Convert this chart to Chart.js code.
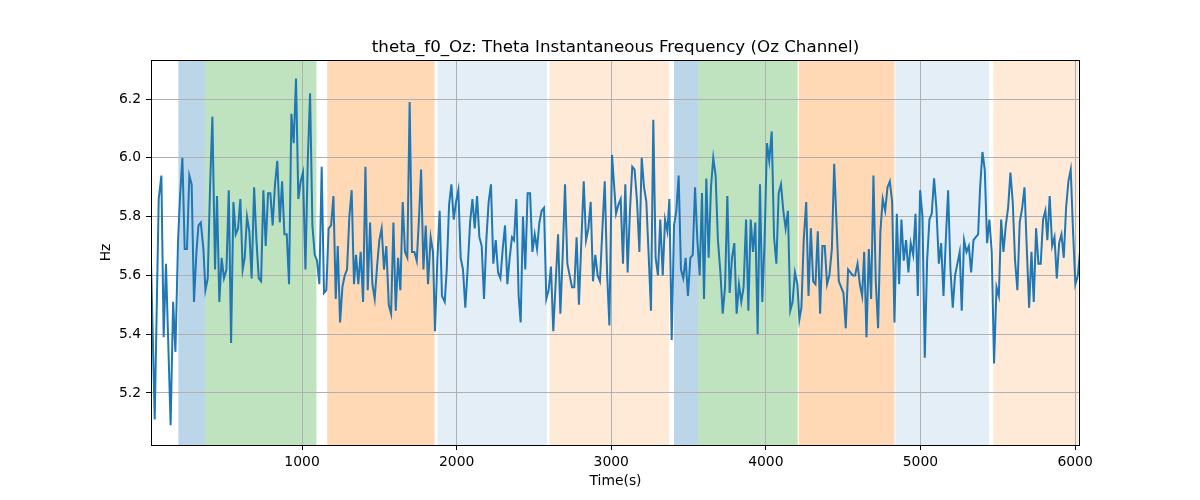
<!DOCTYPE html>
<html>
<head>
<meta charset="utf-8">
<script src="https://cdn.jsdelivr.net/npm/chart.js@4.4.1/dist/chart.umd.min.js"></script>
<style>
  html, body { margin: 0; padding: 0; background: #fff; }
</style>
</head>
<body>
<canvas id="chart" width="1200" height="500"></canvas>
<script>
// time (s) and theta frequency (Hz)
const timeSec = [
  23,47,73,90,105,120,133,150,166,181,198,211,226,241,256,271,286,301,317,330,
  345,362,375,390,405,420,437,450,465,480,495,511,526,541,556,571,586,601,616,
  629,644,659,674,690,705,720,735,750,765,780,795,810,825,840,856,871,886,901,916,
  931,946,961,976,991,1006,1022,1037,1052,1067,1082,1097,1112,1127,1142,1157,1172,1188,1203,1218,
  1231,1246,1261,1276,1291,1306,1321,1336,1349,1364,1379,1395,1410,1425,1440,1455,1470,1485,1500,1515,
  1530,1545,1561,1576,1591,1606,1621,1636,1651,1666,1681,1696,1711,1727,1742,1757,1770,1785,1800,1815,
  1832,1847,1860,1875,1890,1905,1923,1936,1951,1966,1981,1996,2011,2026,2041,2056,2071,2087,2102,2117,
  2132,2147,2162,2177,2192,2207,2222,2237,2253,2268,2283,2298,2313,2328,2343,2358,2371,2386,2401,
  2414,2429,2444,2459,2475,2490,2505,2520,2535,2550,2565,2580,2595,2610,2625,2641,2656,2671,2686,2701,
  2716,2731,2746,2761,2776,2791,2807,2822,2837,2852,2867,2882,2897,2912,2927,2942,2958,2973,2988,3005,
  3031,3046,3061,3076,3091,3106,3121,3136,3151,3167,3182,3197,3212,3227,3242,3257,3272,3287,3302,3317,
  3333,3348,3363,3376,3391,3406,3421,3436,3451,3466,3481,3496,3512,3527,3542,3557,3572,3587,3600,
  3615,3630,3645,3660,3675,3690,3706,3721,3736,3751,3766,3781,3796,3811,3826,3841,3856,3872,3887,3902,
  3917,3932,3947,3962,3977,3992,4007,4022,4038,4053,4068,4083,4098,4113,4128,4143,4158,4173,4188,
  4204,4217,4230,4245,4261,4276,4291,4306,4321,4336,4351,4366,4381,4396,4411,4427,4442,4457,4472,4487,
  4502,4517,4532,4547,4562,4577,4593,4608,4623,4636,4651,4666,4681,4696,4711,4726,4741,4756,4772,4787,
  4802,4817,4832,4847,4862,4877,4892,4907,4922,4937,4953,4968,4983,4998,5013,5028,5043,5058,5073,5088,
  5103,5119,5134,5149,5164,5179,5194,5209,5224,5239,5254,5267,5282,5298,5313,5328,5343,5358,5373,5386,
  5401,5416,5431,5446,5461,5476,5492,5507,5522,5537,5552,5567,5582,5597,5612,5627,5642,5658,5673,5688,
  5703,5718,5733,5748,5763,5778,5793,5808,5821,5836,5852,5867,5882,5897,5912,5927,5942,5957,5972,5987,
  6002,6018,6032
];
const thetaHz = [
  5.65,5.11,5.86,5.94,5.39,5.64,5.40,5.09,5.51,5.34,5.72,5.87,6.00,5.69,5.69,5.94,5.91,5.51,5.68,5.77,
  5.78,5.69,5.55,5.59,5.90,6.14,5.62,5.87,5.51,5.66,5.59,5.62,5.89,5.37,5.85,5.74,5.76,5.86,5.62,
  5.66,5.80,5.75,5.59,5.90,5.72,5.59,5.58,5.89,5.70,5.88,5.88,5.77,5.91,5.99,5.78,5.92,5.74,5.74,5.57,
  6.15,6.05,6.27,5.86,5.92,5.95,5.62,5.99,6.22,5.77,5.67,5.65,5.57,5.97,5.54,5.55,5.76,5.77,5.87,5.52,
  5.70,5.44,5.56,5.60,5.62,5.80,5.89,5.57,5.67,5.57,5.68,5.51,5.97,5.55,5.78,5.57,5.52,5.63,5.72,5.76,
  5.62,5.70,5.50,5.47,5.78,5.48,5.66,5.55,5.85,5.68,5.66,6.19,5.68,5.68,5.65,5.80,5.96,5.62,5.77,5.57,
  5.73,5.68,5.41,5.65,5.82,5.53,5.51,5.62,5.84,5.91,5.79,5.85,5.89,5.66,5.62,5.49,5.62,5.78,5.86,5.76,
  5.87,5.73,5.70,5.52,5.72,5.85,5.91,5.64,5.72,5.61,5.59,5.69,5.77,5.57,5.66,5.73,5.72,5.86,5.53,
  5.44,5.80,5.62,5.88,5.88,5.68,5.74,5.69,5.78,5.82,5.83,5.52,5.55,5.63,5.41,5.58,5.74,5.47,5.67,5.91,
  5.64,5.60,5.56,5.56,5.73,5.50,5.72,5.92,5.72,5.76,5.85,5.58,5.67,5.60,5.58,5.75,5.92,5.61,5.43,6.01,
  5.81,5.84,5.86,5.64,5.91,5.61,5.82,5.97,5.96,5.85,5.68,6.00,5.90,5.85,5.67,5.48,6.13,5.66,5.60,5.79,
  5.60,5.79,5.75,5.86,5.38,5.77,5.82,5.94,5.62,5.59,5.66,5.53,5.66,5.67,5.90,5.72,5.60,5.88,5.52,
  5.93,5.66,5.90,6.00,5.94,5.72,5.61,5.47,5.56,5.87,5.54,5.66,5.71,5.47,5.57,5.51,5.56,5.79,5.48,5.79,
  5.68,5.78,5.40,5.91,5.51,5.72,6.05,5.99,6.09,5.73,5.64,5.88,5.91,5.82,5.76,5.82,5.48,5.51,5.61,
  5.57,5.45,5.49,5.72,5.85,5.53,5.76,5.58,5.57,5.75,5.47,5.70,5.70,5.57,5.60,5.69,5.98,5.78,5.58,5.56,
  5.54,5.42,5.62,5.61,5.60,5.60,5.64,5.57,5.53,5.68,5.39,5.69,5.52,5.94,5.58,5.42,5.75,5.86,5.82,5.90,
  5.92,5.85,5.44,5.81,5.57,5.79,5.65,5.72,5.61,5.71,5.67,5.81,5.53,5.89,5.80,5.32,5.65,5.79,5.81,5.93,
  5.83,5.64,5.71,5.53,5.72,5.89,5.62,5.49,5.60,5.64,5.68,5.48,5.72,5.68,5.70,5.61,5.72,5.73,5.74,5.90,
  6.02,5.96,5.71,5.79,5.68,5.30,5.56,5.53,5.79,5.68,5.77,5.83,5.95,5.85,5.65,5.55,5.78,5.83,5.90,5.69,
  5.49,5.68,5.51,5.76,5.64,5.64,5.79,5.82,5.72,5.87,5.70,5.73,5.59,5.71,5.74,5.66,5.83,5.92,5.96,5.75,
  5.57,5.60,5.68
];

// shaded phases (start, end in seconds) and their colours
const phaseStart = [200, 375, 1163, 1876, 2600, 3406, 3564, 4213, 4838, 5472];
const phaseEnd   = [375, 1093, 1857, 2585, 3374, 3564, 4206, 4832, 5443, 6020];
const phaseColor = [
  'rgba(31,119,180,0.3)', 'rgba(44,160,44,0.3)', 'rgba(255,127,14,0.3)',
  'rgba(31,119,180,0.12)', 'rgba(255,127,14,0.16)',
  'rgba(31,119,180,0.3)', 'rgba(44,160,44,0.3)', 'rgba(255,127,14,0.3)',
  'rgba(31,119,180,0.12)', 'rgba(255,127,14,0.16)'
];

const xTicks = [1000, 2000, 3000, 4000, 5000, 6000];
const yTicks = [5.2, 5.4, 5.6, 5.8, 6.0, 6.2];

const titleText = 'theta_f0_Oz: Theta Instantaneous Frequency (Oz Channel)';
const xLabel = 'Time(s)';
const yLabel = 'Hz';

const FONT = 'DejaVu Sans';

const points = timeSec.map((t, i) => ({x: t, y: thetaHz[i]}));

// spans go under the grid, like axvspan
const spansPlugin = {
  id: 'spans',
  beforeDraw(chart) {
    const {ctx, chartArea, scales} = chart;
    ctx.save();
    ctx.beginPath();
    ctx.rect(chartArea.left, chartArea.top, chartArea.right - chartArea.left, chartArea.bottom - chartArea.top);
    ctx.clip();
    for (let i = 0; i < phaseStart.length; i++) {
      const x0 = scales.x.getPixelForValue(phaseStart[i]);
      const x1 = scales.x.getPixelForValue(phaseEnd[i]);
      ctx.fillStyle = phaseColor[i];
      ctx.fillRect(x0, chartArea.top, x1 - x0, chartArea.bottom - chartArea.top);
    }
    ctx.restore();
  }
};

// frame, title and axis labels
const textPlugin = {
  id: 'texts',
  afterDraw(chart) {
    const {ctx, chartArea} = chart;
    ctx.save();
    ctx.strokeStyle = '#000';
    ctx.lineWidth = 1;
    ctx.strokeRect(chartArea.left + 0.5, chartArea.top + 0.5,
      chartArea.right - chartArea.left - 1, chartArea.bottom - chartArea.top);
    const cx = (chartArea.left + chartArea.right) / 2;
    ctx.fillStyle = '#000';
    ctx.textAlign = 'center';
    ctx.textBaseline = 'alphabetic';
    ctx.font = '16.7px "' + FONT + '"';
    ctx.fillText(titleText, cx, chartArea.top - 8);
    ctx.font = '13.9px "' + FONT + '"';
    ctx.textBaseline = 'middle';
    ctx.fillText(xLabel, cx, 481);
    ctx.translate(106, (chartArea.top + chartArea.bottom) / 2);
    ctx.rotate(-Math.PI / 2);
    ctx.fillText(yLabel, 0, 0);
    ctx.restore();
  }
};

new Chart(document.getElementById('chart'), {
  type: 'line',
  data: {
    datasets: [{
      data: points,
      borderColor: '#1f77b4',
      borderWidth: 2,
      pointRadius: 0,
      tension: 0,
      fill: false
    }]
  },
  options: {
    responsive: false,
    animation: false,
    layout: { padding: { left: 0, top: 60, right: 120, bottom: 0 } },
    plugins: {
      legend: { display: false },
      title: { display: false },
      tooltip: { enabled: false }
    },
    scales: {
      x: {
        type: 'linear',
        min: 23,
        max: 6032,
        afterFit(scale) { scale.height = 55; },
        afterBuildTicks(scale) { scale.ticks = xTicks.map(v => ({value: v})); },
        ticks: {
          color: '#000',
          font: { family: FONT, size: 13.9 },
          padding: 4,
          maxRotation: 0,
          callback: v => String(v)
        },
        grid: { color: '#b0b0b0', lineWidth: 1, tickLength: 5, tickColor: '#000' },
        border: { display: false }
      },
      y: {
        min: 5.023,
        max: 6.333,
        afterFit(scale) { scale.width = 151; },
        afterBuildTicks(scale) { scale.ticks = yTicks.map(v => ({value: v})); },
        ticks: {
          color: '#000',
          font: { family: FONT, size: 13.9 },
          padding: 5,
          callback: v => Number(v).toFixed(1)
        },
        grid: { color: '#b0b0b0', lineWidth: 1, tickLength: 5, tickColor: '#000' },
        border: { display: false }
      }
    }
  },
  plugins: [spansPlugin, textPlugin]
});
</script>
</body>
</html>
